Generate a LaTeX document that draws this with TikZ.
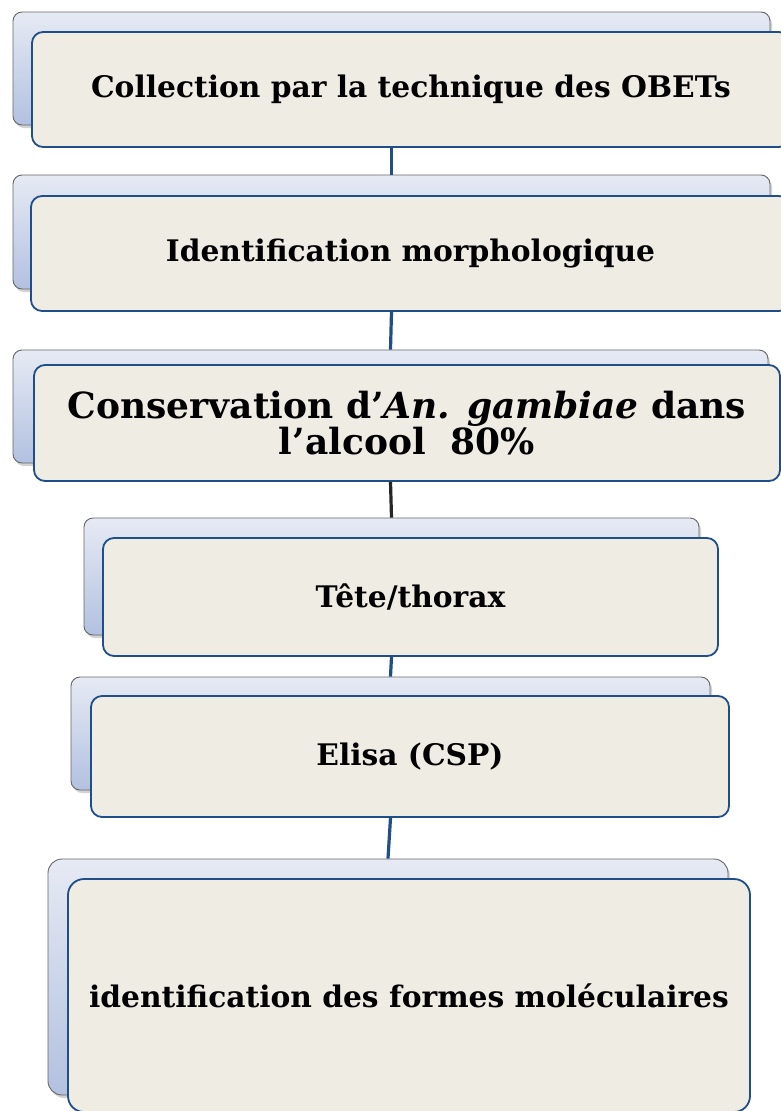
\documentclass[tikz,border=0pt]{standalone}
\usepackage{fontspec}
\setmainfont{DejaVu Serif}
\usetikzlibrary{shadows}
\definecolor{backtop}{HTML}{E6EAF4}
\definecolor{backbot}{HTML}{B2C1E0}
\definecolor{frontfill}{HTML}{EEECE3}
\definecolor{navy}{HTML}{1F4E89}
\begin{document}
\begin{tikzpicture}[x=1pt, y=-1pt,
  back/.style={draw=gray!80!black, line width=0.9pt, rounded corners=9pt,
               top color=backtop, bottom color=backbot, inner sep=0pt,
               drop shadow={opacity=0.35, shadow xshift=2pt, shadow yshift=-3pt}},
  front/.style={draw=navy, line width=1.8pt, rounded corners=11pt, fill=frontfill,
                inner sep=0pt, align=center, font=\fontsize{29.7}{34}\selectfont\bfseries},
  link/.style={draw=navy, line width=3.2pt},
]
  \useasboundingbox (0,0) rectangle (781,1111);
  \fill[white] (0,0) rectangle (781,1111);

  % collection
  \node[back, minimum width=757pt, minimum height=113pt] (b1) at (391.5, 68.5) {};
  \node[front, minimum width=758pt, minimum height=115pt] (f1) at (411, 89.5)
    {Collection par la technique des OBETs};

  % morphologie
  \node[back, minimum width=757pt, minimum height=114pt] (b2) at (391.5, 232) {};
  \node[front, minimum width=759pt, minimum height=115pt] (f2) at (410.5, 253.5)
    {Identification morphologique};

  % conservation
  \node[back, minimum width=755pt, minimum height=113pt] (b3) at (390.5, 406.5) {};
  \node[front, minimum width=746pt, minimum height=116pt,
        font=\fontsize{36}{34}\selectfont\bfseries] (f3) at (407, 423)
    {Conservation d’\textit{An. gambiae} dans\\l’alcool~~80\%};

  % tete/thorax
  \node[back, minimum width=615pt, minimum height=117pt] (b4) at (391.5, 576.5) {};
  \node[front, minimum width=615pt, minimum height=118pt] (f4) at (410.5, 597)
    {Tête/thorax};

  % elisa
  \node[back, minimum width=639pt, minimum height=113pt] (b5) at (390.5, 733.5) {};
  \node[front, minimum width=638pt, minimum height=121pt] (f5) at (410, 756.5)
    {Elisa (CSP)};

  % formes moleculaires
  \node[back, minimum width=680pt, minimum height=236pt, rounded corners=14pt] (b6) at (388, 977) {};
  \node[front, minimum width=682pt, minimum height=233pt, rounded corners=16pt] (f6) at (409, 995.5)
    {identification des formes moléculaires};

  % connectors
  \draw[link] (b1.south |- f1.south) -- (b2.north);
  \draw[link] (b2.south |- f2.south) -- (b3.north);
  \draw[link, draw=black!85] (b3.south |- f3.south) -- (b4.north);
  \draw[link] (b4.south |- f4.south) -- (b5.north);
  \draw[link] (b5.south |- f5.south) -- (b6.north);
\end{tikzpicture}
\end{document}
